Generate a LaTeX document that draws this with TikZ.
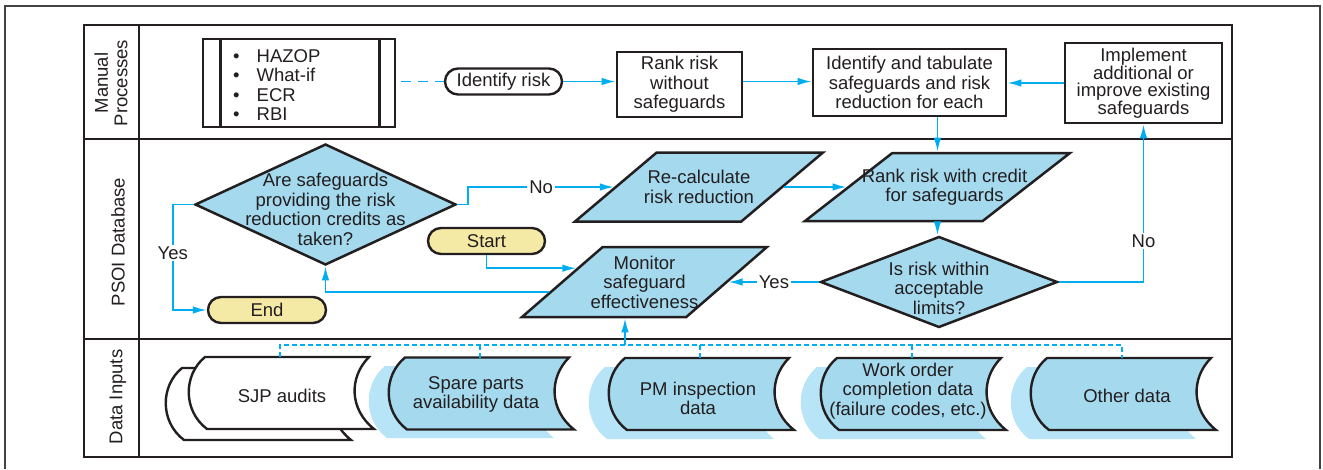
\documentclass[tikz,border=0pt]{standalone}
\usepackage{fontspec}
\setmainfont{Liberation Sans}
\usetikzlibrary{shapes.geometric, positioning, arrows.meta, calc}
\definecolor{ink}{HTML}{231F20}
\definecolor{linkblue}{HTML}{00AEEF}
\definecolor{boxblue}{HTML}{A4D9EE}
\definecolor{shade}{HTML}{B8E4F7}
\definecolor{pillyellow}{HTML}{F4E9A5}
\tikzset{
  datashape/.pic={
    \path [pic actions] (-82,-36) -- (82,-36) .. controls (62,-16) and (62,16) .. (87,36) -- (-80,36) .. controls (-104,18) and (-104,-18) .. (-82,-36) -- cycle;
    \coordinate (-top) at (-7,-36);
  }
}
\begin{document}
\begin{tikzpicture}[x=1pt, y=-1pt,
  every node/.style={font=\fontsize{18.5}{19.5}\selectfont, text=ink},
  lane/.style={rotate=90, align=center},
  box/.style={draw=ink, line width=2.6pt, fill=white, align=center, inner sep=0pt},
  terminal/.style={draw=ink, line width=2.4pt, rounded corners=13pt, minimum height=26pt, minimum width=117pt, inner sep=0pt},
  decision/.style={diamond, draw=ink, line width=2.5pt, fill=boxblue, inner sep=1pt},
  iobox/.style={trapezium, trapezium left angle=46, trapezium right angle=134, trapezium stretches=true, draw=ink, line width=2.5pt, fill=boxblue, inner sep=1pt},
  inside/.style={align=center},
  link/.style={draw=linkblue, line width=1.8pt},
  flow/.style={link, -{Latex[length=14pt, width=7.5pt]}},
  bus/.style={link, dash pattern=on 5pt off 3pt},
  answer/.style={fill=white, inner sep=2pt}]
\useasboundingbox (0,0) rectangle (1323,469);
\draw [line width=1.3pt, draw=ink!85] (5,469) -- (5,6) -- (1320,6) -- (1320,469);
\draw [line width=1.6pt, draw=ink] (84,25) rectangle (1232,457);
\draw [line width=2.4pt, draw=ink] (139,25) -- (139,457);
\draw [line width=2.4pt, draw=ink] (84,139) -- (1232,139);
\draw [line width=2.4pt, draw=ink] (84,339) -- (1232,339);
\node [lane] (manual) at (111,83) {Manual\\Processes};
\node [lane] (psoi) at (118,242) {PSOI Database};
\node [lane] (inputs) at (118,397) {Data Inputs};

\node [box, minimum width=192pt, minimum height=88pt] (hazop) at (299,83) {};
\draw [line width=2.6pt, draw=ink] ([xshift=19pt]hazop.north west) -- ([xshift=19pt]hazop.south west);
\draw [line width=2.6pt, draw=ink] ([xshift=-17pt]hazop.north east) -- ([xshift=-17pt]hazop.south east);
\node [anchor=west, align=left, inner sep=0pt] (methods) at (233,85) {\textbullet\hspace{17pt}HAZOP\\\textbullet\hspace{17pt}What-if\\\textbullet\hspace{17pt}ECR\\\textbullet\hspace{17pt}RBI};
\node [terminal, fill=white] (idrisk) at (503.5,81.5) {Identify risk};
\node [box, minimum width=125pt, minimum height=65pt] (rankraw) at (679.5,84.5) {Rank risk\\without\\safeguards};
\node [box, minimum width=193pt, minimum height=67pt] (tabulate) at (909.5,82.5) {Identify and tabulate\\safeguards and risk\\reduction for each};
\node [box, minimum width=157pt, minimum height=80pt, font=\fontsize{18.5}{16.8}\selectfont] (implement) at (1143.5,83) {Implement\\additional or\\improve existing\\safeguards};

\node [decision, minimum width=261pt, minimum height=121pt, label={[inside, yshift=-5pt]center:Are safeguards\\providing the risk\\reduction credits as\\taken?}] (check) at (325.5,204.5) {};
\node [iobox, minimum width=248pt, minimum height=69pt, label={[inside]center:Re-calculate\\risk reduction}] (recalc) at (699,187) {};
\node [iobox, minimum width=265pt, minimum height=68pt, label={[inside, xshift=7pt]center:Rank risk with credit\\for safeguards}] (credit) at (937.5,187) {};
\node [decision, minimum width=237pt, minimum height=91pt, label={[inside, yshift=-6pt]center:Is risk within\\acceptable\\limits?}] (within) at (939,282) {};
\node [iobox, minimum width=245pt, minimum height=70pt, label={[inside]center:Monitor\\safeguard\\effectiveness}] (monitor) at (644.5,282) {};
\node [terminal, fill=pillyellow] (start) at (486.5,241) {Start};
\node [terminal, fill=pillyellow, minimum width=118pt] (done) at (267,310) {End};

\draw [link, dash pattern=on 10pt off 7pt] ([xshift=5pt]hazop.east |- idrisk.west) -- (idrisk.west);
\draw [flow] (idrisk.east) -- (idrisk.east -| rankraw.west);
\draw [flow] (idrisk.east -| rankraw.east) -- (idrisk.east -| tabulate.west);
\draw [flow] (implement.west) -- (implement.west -| tabulate.east);
\draw [flow] (tabulate.south -| credit.north) -- (credit.north);
\draw [flow] (credit.south) -- (credit.south |- within.north);
\draw [flow] (within.west) -- node [answer] {Yes} (monitor.right side);
\draw [flow] (within.east) -| node [answer, pos=0.63] {No} (implement.south);
\draw [flow] (check.east) -- ++(11,0) |- node [answer, pos=0.75] {No} (recalc.left side);
\draw [flow] (recalc.right side) -- (credit.left side);
\draw [flow] (check.west) -- ++(-21,0) |- node [answer, pos=0.23] {Yes} (done.west);
\draw [flow] (start.south) |- ($(monitor.bottom left corner)!.69!(monitor.top left corner)$);
\draw [flow] ($(monitor.bottom left corner)!.36!(monitor.top left corner)$) -| (check.south);

\pic [fill=white, draw=ink, line width=2.4pt] at (264,404) {datashape};
\pic [fill=white, draw=ink, line width=2.4pt] (sjp) at (287,393) {datashape};
\pic [fill=shade] at (467,402) {datashape};
\pic [fill=boxblue, draw=ink, line width=2.4pt] (spare) at (487,393.5) {datashape};
\pic [fill=shade] at (687,403) {datashape};
\pic [fill=boxblue, draw=ink, line width=2.4pt] (pm) at (707,394) {datashape};
\pic [fill=shade] at (899,403) {datashape};
\pic [fill=boxblue, draw=ink, line width=2.4pt] (work) at (919,394) {datashape};
\pic [fill=shade] at (1109,403) {datashape};
\pic [fill=boxblue, draw=ink, line width=2.4pt] (other) at (1129,394) {datashape};
\node (sjptext) at (282,396) {SJP audits};
\node [inside] (sparetext) at (476,394.5) {Spare parts\\availability data};
\node [inside] (pmtext) at (698,398.5) {PM inspection\\data};
\node [inside] (worktext) at (908,391) {Work order\\completion data\\(failure codes, etc.)};
\node (othertext) at (1127,396) {Other data};

\coordinate (tap) at (625,345);
\draw [bus] (sjp-top) -- (sjp-top |- tap) -| (other-top);
\foreach \s in {spare, pm, work} \draw [bus] (\s-top) -- (\s-top |- tap);
\draw [flow] (tap) -- (tap |- monitor.south);
\end{tikzpicture}
\end{document}
